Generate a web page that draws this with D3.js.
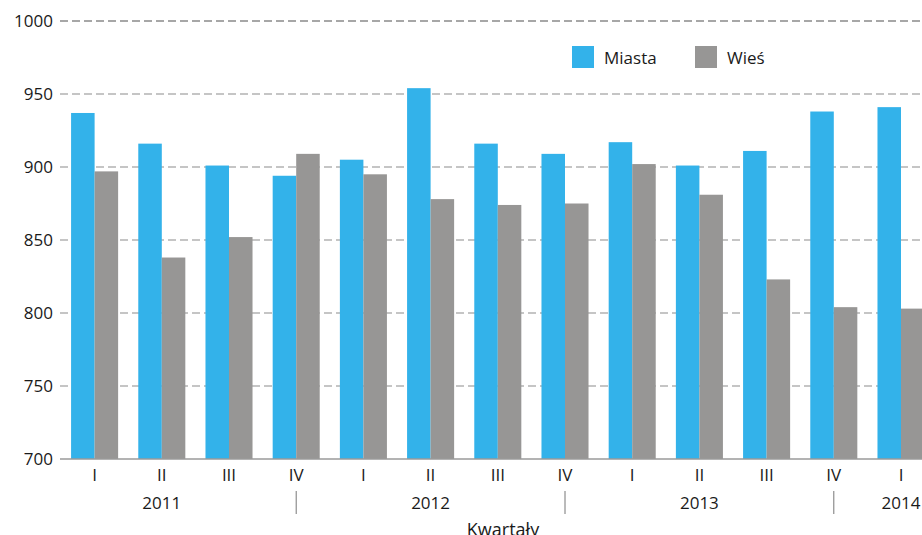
<!DOCTYPE html>
<html><head><meta charset="utf-8">
<script src="https://cdn.jsdelivr.net/npm/d3@7"></script>
<style>body{margin:0;background:#fff}svg{display:block}text{font-family:"Open Sans",sans-serif;fill:#1a1a1a}</style>
</head><body>
<script>
const quarters = ["I","II","III","IV","I","II","III","IV","I","II","III","IV","I"];
const years = [{label:"2011",at:1},{label:"2012",at:5},{label:"2013",at:9},{label:"2014",at:12}];
const separators = [3,7,11];
const miasta = [937,916,901,894,905,954,916,909,917,901,911,938,941];
const wies = [897,838,852,909,895,878,874,875,902,881,823,804,803];
const seriesNames = ["Miasta","Wieś"];
const colors = ["#33b2ea","#979695"];
const yTicks = [700,750,800,850,900,950,1000];

const W=922,H=535;
const svg=d3.select("body").append("svg").attr("width",W).attr("height",H);
const x0=d3.scaleBand().domain(d3.range(quarters.length)).range([61,61+13*67.2]).paddingInner(0.3).paddingOuter(0.15);
const x1=d3.scaleBand().domain([0,1]).range([0,x0.bandwidth()]);
const y=d3.scaleLinear().domain([700,1000]).range([459,21]);

// gridlines
svg.append("g").selectAll("line").data(yTicks.filter(d=>d>700)).join("line")
 .attr("x1",60).attr("x2",W).attr("y1",d=>y(d)).attr("y2",d=>y(d))
 .attr("stroke",d=>d===1000?"#8a8a8a":"#b3b3b3").attr("stroke-width",1.6).attr("stroke-dasharray","8,4");

// y labels
svg.append("g").selectAll("text").data(yTicks).join("text")
 .attr("x",53).attr("y",d=>y(d)).attr("dy","0.36em").attr("text-anchor","end")
 .attr("font-size",17).text(d=>d);

// bars
const data=quarters.map((q,i)=>[miasta[i],wies[i]]);
const g=svg.append("g").selectAll("g").data(data).join("g").attr("transform",(d,i)=>`translate(${x0(i)},0)`);
g.selectAll("rect").data(d=>d).join("rect")
 .attr("x",(d,j)=>x1(j)).attr("width",x1.bandwidth()).attr("y",d=>y(d)).attr("height",d=>y(700)-y(d))
 .attr("fill",(d,j)=>colors[j]);

// baseline
svg.append("line").attr("x1",60).attr("x2",W).attr("y1",y(700)).attr("y2",y(700)).attr("stroke","#9a9a9a").attr("stroke-width",1.5);

const cx=i=>x0(i)+x0.bandwidth()/2;
// quarter labels
svg.append("g").selectAll("text").data(quarters).join("text")
 .attr("x",(d,i)=>cx(i)).attr("y",481).attr("text-anchor","middle").attr("font-size",17).text(d=>d);
// year labels
svg.append("g").selectAll("text").data(years).join("text")
 .attr("x",d=>cx(d.at)).attr("y",509).attr("text-anchor","middle").attr("font-size",17).text(d=>d.label);
// separators
svg.append("g").selectAll("line").data(separators).join("line")
 .attr("x1",d=>cx(d)).attr("x2",d=>cx(d)).attr("y1",491).attr("y2",514).attr("stroke","#777").attr("stroke-width",1);
// axis title
svg.append("text").attr("x",503).attr("y",536).attr("text-anchor","middle").attr("font-size",18).text("Kwartały");

// legend
const leg=[{x:572},{x:695}];
const lg=svg.append("g").selectAll("g").data(seriesNames).join("g").attr("transform",(d,i)=>`translate(${leg[i].x},46)`);
lg.append("rect").attr("width",22).attr("height",22).attr("fill",(d,i)=>colors[i]);
lg.append("text").attr("x",32).attr("y",18).attr("font-size",17).text(d=>d);
</script>
</body></html>
